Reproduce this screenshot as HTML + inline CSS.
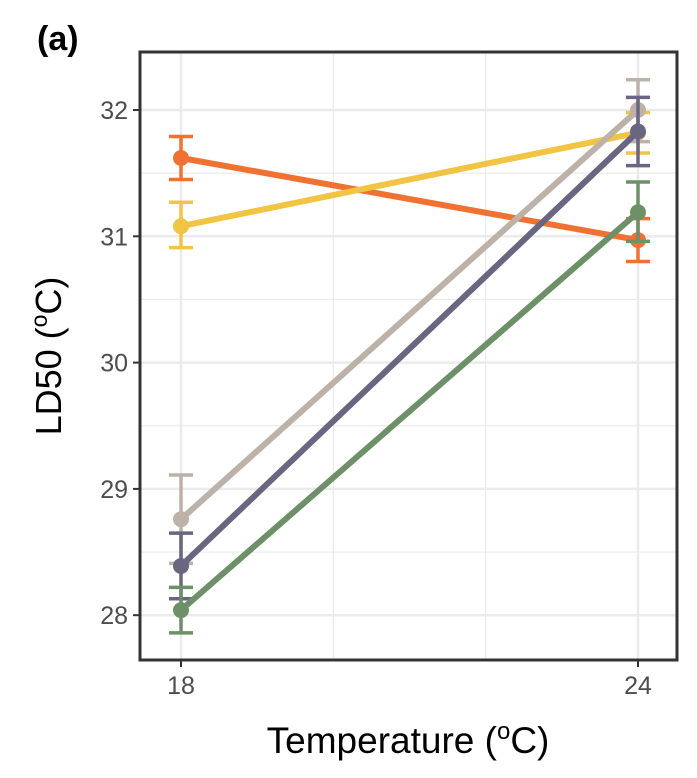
<!DOCTYPE html>
<html><head><meta charset="utf-8"><style>body{margin:0;background:#fff}svg{display:block}</style></head>
<body>
<svg id="chart" width="697" height="778" xmlns="http://www.w3.org/2000/svg" font-family="Liberation Sans, sans-serif">
<text x="37" y="50" font-size="34" font-weight="bold">(a)</text>
<g id="grid"></g>
<g id="series"></g>
<rect x="140" y="52" width="537" height="608" fill="none" stroke="#333" stroke-width="3"/>
<g id="axes"></g>
<text x="408" y="753" font-size="37" text-anchor="middle">Temperature (<tspan font-size="24" dy="-14">o</tspan><tspan dy="14">C)</tspan></text>
<text transform="translate(61,356) rotate(-90)" font-size="36" text-anchor="middle">LD50 (<tspan font-size="23" dy="-14">o</tspan><tspan dy="14">C)</tspan></text>
</svg>
<script>
const temps=[18,24];
const yTicks=[28,29,30,31,32];
const seriesNames=['orange','yellow','beige','purple','green'];
const colors=['#f07233','#f2c443','#bcb2a8','#6a6580','#6e9068'];
const means=[[31.62,30.97],[31.08,31.82],[28.76,32.0],[28.39,31.83],[28.04,31.19]];
const lows=[[31.45,30.80],[30.91,31.66],[28.41,31.75],[28.13,31.56],[27.86,30.96]];
const highs=[[31.79,31.14],[31.27,31.98],[29.11,32.24],[28.65,32.10],[28.22,31.43]];
const NS='http://www.w3.org/2000/svg';
const x=v=>181+(v-18)*(638-181)/6;
const y=v=>110+(32-v)*126.3;
function mk(t,a,p){const e=document.createElementNS(NS,t);for(const k in a)e.setAttribute(k,a[k]);p.appendChild(e);return e;}
const grid=document.getElementById('grid'),ser=document.getElementById('series'),axes=document.getElementById('axes');
for(let i=0;i<yTicks.length;i++){const v=yTicks[i];
 const l=mk('line',{x1:140,x2:677,y1:y(v),y2:y(v),stroke:'#ebebeb','stroke-width':2.5},grid);
 
 if(i<yTicks.length-1){const m=mk('line',{x1:140,x2:677,y1:y(v+0.5),y2:y(v+0.5),stroke:'#ebebeb','stroke-width':1.2},grid);
 }
 const t=mk('line',{x1:133,x2:140,y1:y(v),y2:y(v),stroke:'#333','stroke-width':2},axes);
 
 const tx=mk('text',{x:128,y:y(v)+9,'font-size':25,'text-anchor':'end',fill:'#4d4d4d'},axes);tx.textContent=v;
 }
[1,2].forEach(k=>{const xv=x(18)+k*(x(24)-x(18))/3;
 const m=mk('line',{x1:xv,x2:xv,y1:52,y2:660,stroke:'#ebebeb','stroke-width':1.2},grid);
 });
temps.forEach(v=>{const l=mk('line',{x1:x(v),x2:x(v),y1:52,y2:660,stroke:'#ebebeb','stroke-width':2.5},grid);
 
 const t=mk('line',{x1:x(v),x2:x(v),y1:660,y2:667,stroke:'#333','stroke-width':2},axes);
 
 const tx=mk('text',{x:x(v),y:694,'font-size':25,'text-anchor':'middle',fill:'#4d4d4d'},axes);tx.textContent=v;
 });
seriesNames.forEach((n,s)=>{const g=mk('g',{},ser);
 const l=mk('line',{x1:x(temps[0]),y1:y(means[s][0]),x2:x(temps[1]),y2:y(means[s][1]),stroke:colors[s],'stroke-width':6},g);
 
 temps.forEach((tv,i)=>{const X=x(tv);
  const e=mk('path',{d:`M${X-12},${y(lows[s][i])}H${X+12}M${X-12},${y(highs[s][i])}H${X+12}M${X},${y(lows[s][i])}V${y(highs[s][i])}`,stroke:colors[s],'stroke-width':3.5,fill:'none'},g);
  
  const c=mk('circle',{cx:X,cy:y(means[s][i]),r:8,fill:colors[s]},g);
  });});
</script>
</body></html>
